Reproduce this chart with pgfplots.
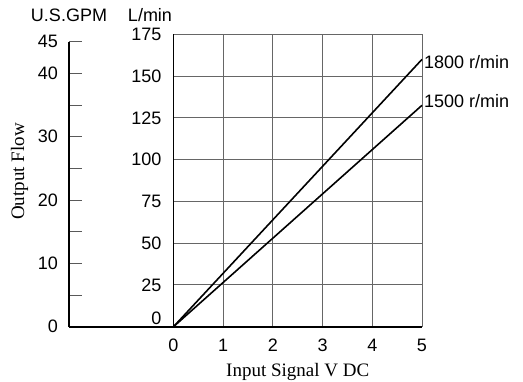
\documentclass[border=0pt]{standalone}
\usepackage{fontspec}
\setmainfont{Liberation Serif}
\setsansfont{Liberation Sans}
\usepackage{pgfplots}
\pgfplotsset{compat=1.18}
\newcommand{\tickfont}{\sffamily\fontsize{18}{21}\selectfont}
\begin{document}
\begin{tikzpicture}
\path[use as bounding box] (0,0) rectangle (523pt,381pt);

% U.S. GPM scale on the left
\begin{axis}[
  at={(69pt,54.3pt)}, anchor=south west,
  scale only axis, width=104.5pt, height=285pt,
  xmin=0, xmax=1, ymin=0, ymax=45,
  axis x line=bottom, axis y line=left,
  axis line style={-, line width=1.6pt, black},
  xtick=\empty,
  ytick={0,10,20,30,40,45},
  minor ytick={5,15,25,35},
  tick align=inside,
  major tick length=12.7pt, minor tick length=12.7pt,
  every tick/.style={black!65, line width=1pt},
  ticklabel style={font=\tickfont},
  yticklabel style={inner sep=1pt, xshift=-10pt},
  /pgf/number format/assume math mode=true,
]
\end{axis}

% main L/min axis
\begin{axis}[
  at={(173.5pt,54.3pt)}, anchor=south west,
  scale only axis, width=248.5pt, height=292.4pt,
  xmin=0, xmax=5, ymin=0, ymax=175,
  axis x line=bottom, axis y line=left,
  axis line style={-, line width=1.6pt, black},
  xtick={0,...,5}, ytick={25,50,...,175},
  extra y ticks={0},
  extra y tick style={grid=none, yticklabel style={yshift=8pt}},
  grid=major, major grid style={black!60, line width=0.9pt},
  major tick length=0pt,
  ticklabel style={font=\tickfont},
  yticklabel style={inner sep=1pt, xshift=-11pt},
  xticklabel style={yshift=-9pt},
  /pgf/number format/assume math mode=true,
  clip=false,
]
\addplot[black, line width=1.6pt] coordinates {(0,0) (5,160)};
\addplot[black, line width=1.6pt] coordinates {(0,0) (5,132.5)};
\node[anchor=west, font=\tickfont, inner sep=2pt, yshift=-3pt] at (axis cs:5,160) {1800 r/min};
\node[anchor=west, font=\tickfont, inner sep=2pt, yshift=4pt] at (axis cs:5,132.5) {1500 r/min};
\end{axis}

\node[anchor=base, font=\tickfont, inner sep=0pt] at (69pt,359pt) {U.S.GPM};
\node[anchor=base, font=\tickfont, inner sep=0pt] at (150pt,359pt) {L/min};
\node[anchor=base, rotate=90, font=\fontsize{19}{22}\selectfont] at (24pt,209.5pt) {Output Flow};
\node[anchor=base, font=\fontsize{19}{22}\selectfont] at (297.75pt,5pt) {Input Signal V DC};
\end{tikzpicture}
\end{document}
